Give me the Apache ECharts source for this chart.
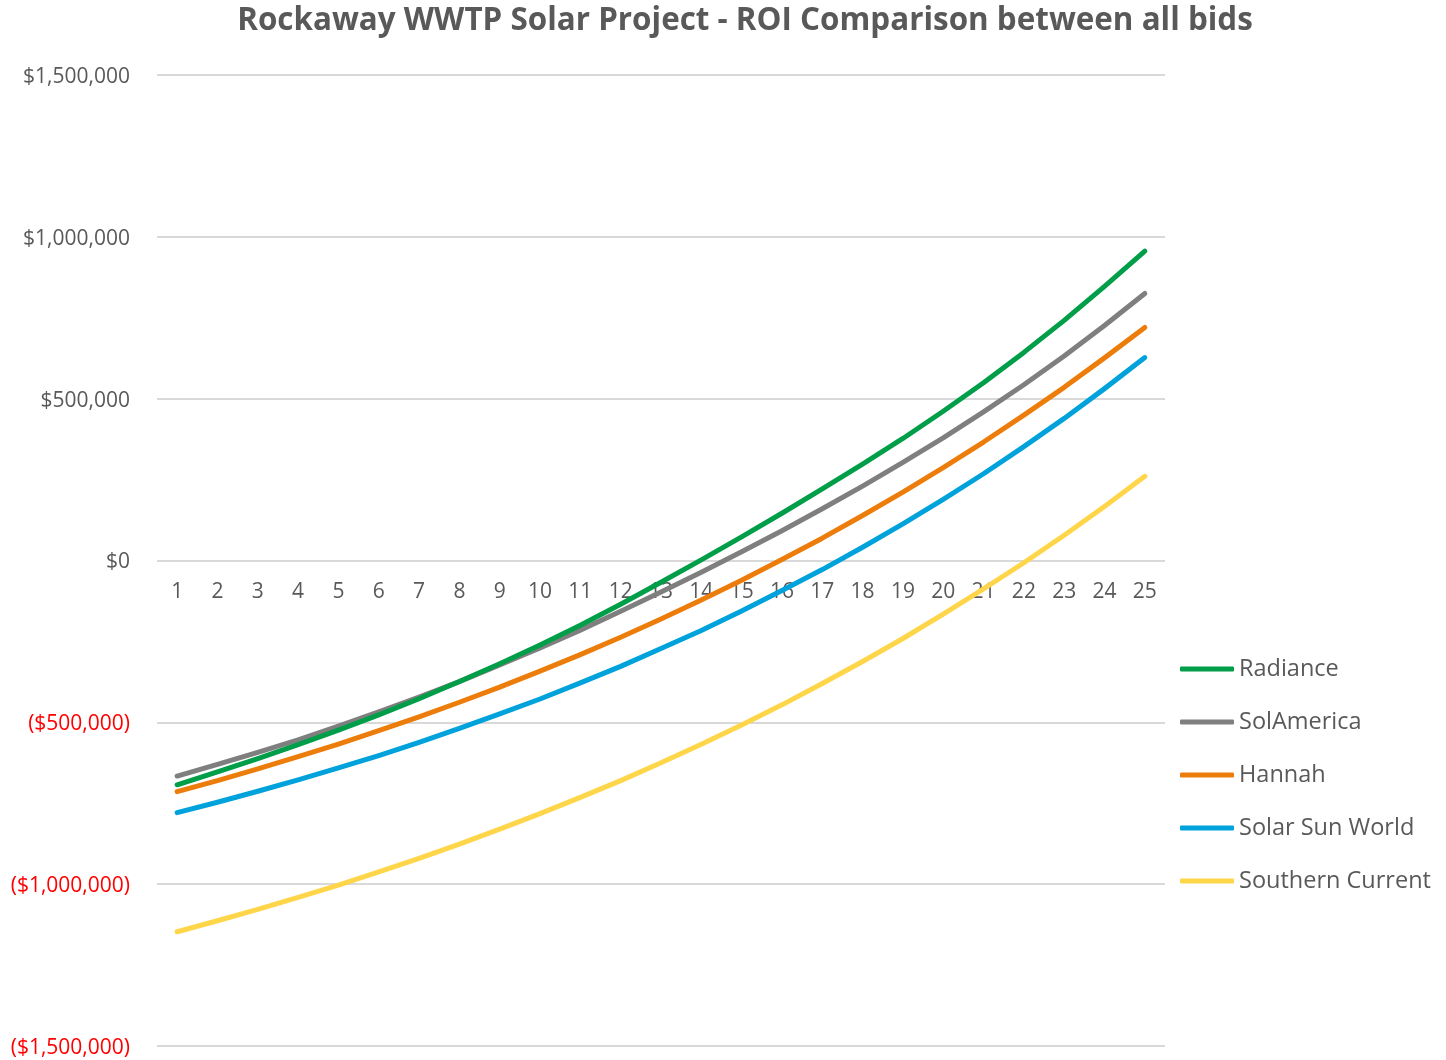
<!DOCTYPE html>
<html>
<head>
<meta charset="utf-8">
<script src="https://cdn.jsdelivr.net/npm/echarts@6/dist/echarts.min.js"></script>
<style>
html,body{margin:0;padding:0;background:#fff;}
#chart{width:1446px;height:1060px;}
</style>
</head>
<body>
<div id="chart"></div>
<script>
const years = ['1','2','3','4','5','6','7','8','9','10','11','12','13','14','15','16','17','18','19','20','21','22','23','24','25'];
const seriesNames = ['Radiance','SolAmerica','Hannah','Solar Sun World','Southern Current'];
const radiance = [-693000,-653000,-612000,-569000,-524000,-477000,-427000,-374000,-319000,-261000,-200000,-135000,-67000,2000,73000,146000,221000,298000,377000,461000,549000,643000,742000,847000,956000];
const solAmerica = [-666000,-630000,-593000,-554000,-512000,-468000,-422000,-374000,-323000,-270000,-215000,-157000,-97000,-36000,27000,92000,160000,230000,303000,379000,459000,543000,632000,726000,825000];
const hannah = [-714000,-680000,-644000,-606000,-567000,-526000,-483000,-438000,-391000,-342000,-291000,-237000,-181000,-122000,-61000,3000,69000,139000,211000,287000,366000,449000,535000,626000,720000];
const solarSunWorld = [-779000,-747000,-713000,-678000,-641000,-603000,-562000,-519000,-474000,-428000,-378000,-327000,-272000,-216000,-156000,-93000,-28000,41000,113000,189000,268000,352000,439000,531000,627000];
const southernCurrent = [-1147000,-1113000,-1078000,-1041000,-1003000,-962000,-920000,-876000,-830000,-782000,-732000,-680000,-625000,-568000,-508000,-446000,-380000,-312000,-241000,-166000,-88000,-7000,78000,167000,260000];
const colors = ['#009E48','#7F7F7F','#ED7D0A','#00A2DB','#FFD54A'];

const allData = [radiance, solAmerica, hannah, solarSunWorld, southernCurrent];
const FONT = '"Open Sans", "Noto Sans", sans-serif';

function fmtMoney(v){
  const s = Math.abs(v).toString().replace(/\B(?=(\d{3})+(?!\d))/g, ',');
  return v < 0 ? '{neg|($' + s + ')}' : '{pos|$' + s + '}';
}

const chart = echarts.init(document.getElementById('chart'), null, {renderer:'canvas'});
chart.setOption({
  animation: false,
  backgroundColor: '#ffffff',
  title: {
    text: 'Rockaway WWTP Solar Project - ROI Comparison between all bids',
    left: 740,
    textAlign: 'center',
    top: 1,
    textStyle: {fontFamily: FONT, fontSize: 31.4, fontWeight: 'bold', color: '#595959'}
  },
  grid: {left: 157, right: 281, top: 75, bottom: 14, containLabel: false, outerBoundsMode: 'none'},
  legend: {
    orient: 'vertical',
    left: 1180,
    top: 657,
    padding: 0,
    icon: 'roundRect',
    itemWidth: 54,
    itemHeight: 5,
    itemGap: 29,
    textStyle: {fontFamily: FONT, fontSize: 23.5, color: '#595959', lineHeight: 24},
    data: seriesNames
  },
  xAxis: {
    type: 'category',
    data: years,
    boundaryGap: true,
    offset: -485,
    axisLine: {show: false, onZero: false},
    axisTick: {show: false},
    axisLabel: {fontFamily: FONT, fontSize: 21, color: '#595959', margin: 21, interval: 0}
  },
  yAxis: {
    type: 'value',
    min: -1500000,
    max: 1500000,
    interval: 500000,
    axisLine: {show: false},
    axisTick: {show: false},
    splitLine: {lineStyle: {color: '#D9D9D9', width: 2}},
    axisLabel: {
      margin: 27,
      formatter: fmtMoney,
      rich: {
        pos: {fontFamily: FONT, fontSize: 21, color: '#595959', padding: [4, 0, 0, 0]},
        neg: {fontFamily: FONT, fontSize: 21, color: '#FF0000', padding: [4, 0, 0, 0]}
      }
    }
  },
  series: allData.map((d, i) => ({
    name: seriesNames[i],
    type: 'line',
    data: d,
    symbol: 'none',
    smooth: false,
    color: colors[i],
    lineStyle: {width: 5, color: colors[i], cap: 'round', join: 'round'},
    itemStyle: {color: colors[i]},
    z: 10 - i
  }))
});
</script>
</body>
</html>
